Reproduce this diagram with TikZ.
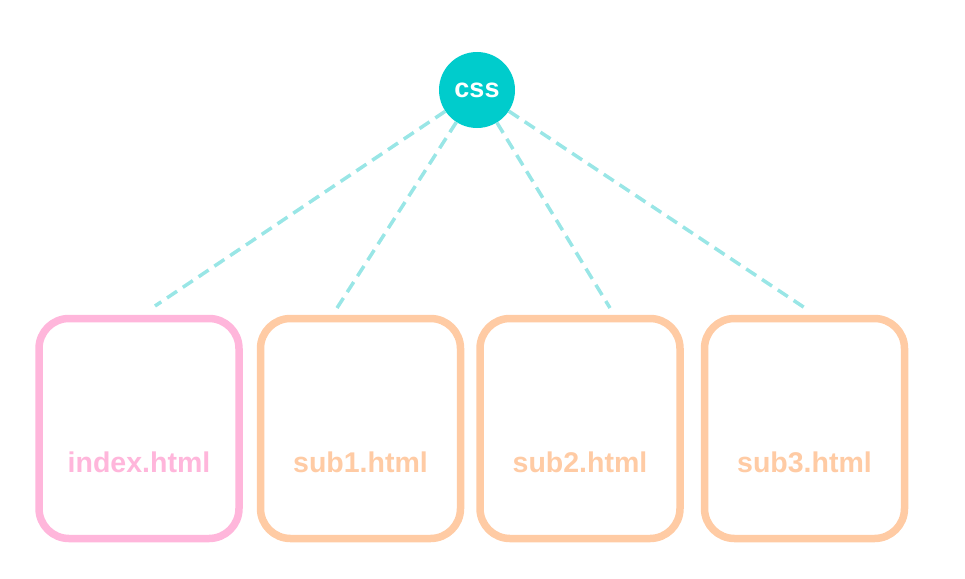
\documentclass[tikz,border=0pt]{standalone}
\usepackage{fontspec}
\setsansfont{Liberation Sans}
\usetikzlibrary{positioning}
\definecolor{pagepink}{HTML}{FFB6DB}
\definecolor{pageorange}{HTML}{FFCBA4}
\definecolor{cssteal}{HTML}{00CCCC}
\definecolor{linkteal}{HTML}{99E6E6}
\tikzstyle{page} = [rectangle, rounded corners=30pt, minimum width=200pt, minimum height=220pt, line width=7.5pt, fill=white]
\tikzstyle{pagename} = [font=\sffamily\bfseries\fontsize{28.5}{32}\selectfont]
\tikzstyle{link} = [draw=linkteal, line width=3.5pt, dash pattern=on 12pt off 7pt]

\begin{document}
\begin{tikzpicture}[x=1pt, y=-1pt, node distance=14pt]
 \useasboundingbox (0,0) rectangle (965,578);

 \node (css) [circle, fill=cssteal, minimum size=76pt, inner sep=0pt, text=white, font=\sffamily\bfseries\fontsize{27}{30}\selectfont] at (477,90) {css};

 \node (index) [page, draw=pagepink, label={[pagename, text=pagepink, yshift=-34pt]center:index.html}] at (139,428.5) {};
 \node (sub1) [page, draw=pageorange, right=14pt of index, label={[pagename, text=pageorange, yshift=-34pt]center:sub1.html}] {};
 \node (sub2) [page, draw=pageorange, right=12pt of sub1, label={[pagename, text=pageorange, yshift=-34pt]center:sub2.html}] {};
 \node (sub3) [page, draw=pageorange, right=17pt of sub2, label={[pagename, text=pageorange, yshift=-34pt]center:sub3.html}] {};

 \coordinate (toindex) at (155,306);
 \coordinate (tosub1) at (337,308);
 \coordinate (tosub2) at (610,308);
 \coordinate (tosub3) at (805,308);

 \draw [link] (css) -- (toindex);
 \draw [link] (css) -- (tosub1);
 \draw [link] (css) -- (tosub2);
 \draw [link] (css) -- (tosub3);
\end{tikzpicture}
\end{document}
